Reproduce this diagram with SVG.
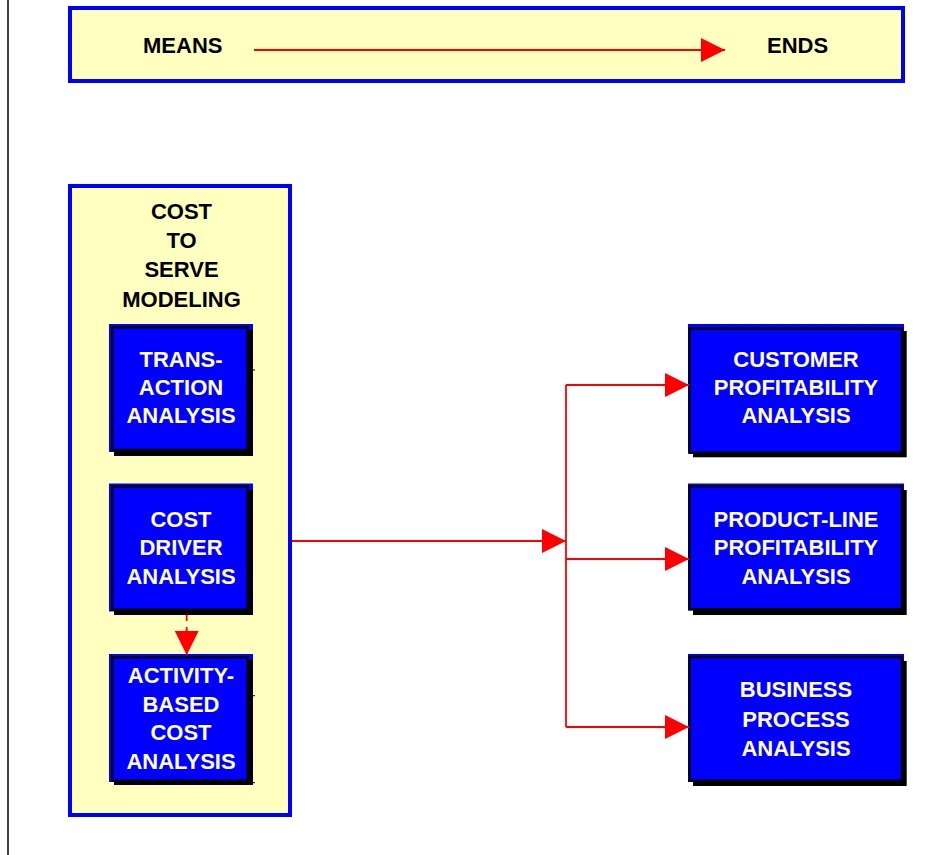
<svg xmlns="http://www.w3.org/2000/svg" width="952" height="855" viewBox="0 0 952 855">
  <style>
    .panel { fill: #FFFFC0; stroke: #0000FF; stroke-width: 4; }
    .fringe { fill: #0000FF; }
    .shadow { fill: #000000; }
    .box { fill: #0000FF; stroke: #000000; stroke-width: 2.4; }
    .tick { stroke: #000000; stroke-width: 1; }
    .lbl { font-family: "Liberation Sans", Arial, sans-serif; font-weight: bold; font-size: 22px; fill: #000000; }
    .blbl { font-family: "Liberation Sans", Arial, sans-serif; font-weight: bold; font-size: 22px; fill: #FFFFFF; text-anchor: middle; }
    .wire { fill: none; stroke: #FF0000; stroke-width: 1.8; }
  </style>
  <defs>
    <marker id="head" markerWidth="24" markerHeight="24" refX="24" refY="12" orient="auto" markerUnits="userSpaceOnUse">
      <path d="M0,0 L24,12 L0,24 Z" fill="#FF0000"/>
    </marker>
  </defs>

  <rect width="952" height="855" fill="#FFFFFF"/>
  <!-- page margin rule -->
  <line x1="8" y1="0" x2="8" y2="855" stroke="#000000" stroke-width="1.5"/>

  <!-- means / ends banner -->
  <g id="banner">
    <rect class="panel" x="70" y="8" width="833" height="73"/>
    <text class="lbl" x="143" y="53">MEANS</text>
    <text class="lbl" x="767" y="53">ENDS</text>
  </g>

  <!-- cost-to-serve container -->
  <g id="cost-to-serve">
    <rect class="panel" x="70" y="186" width="220" height="629"/>
    <text class="lbl" text-anchor="middle" x="181.5" y="218.5">COST</text>
    <text class="lbl" text-anchor="middle" x="181.5" y="247.8">TO</text>
    <text class="lbl" text-anchor="middle" x="181.5" y="277.2">SERVE</text>
    <text class="lbl" text-anchor="middle" x="181.5" y="306.5">MODELING</text>
  </g>

  <g id="transaction-analysis">
    <rect class="fringe" x="109" y="324" width="144" height="128"/>
    <rect class="shadow" x="114" y="330" width="139" height="126"/>
    <rect class="box" x="112.2" y="327.2" width="135.6" height="122.8"/>
    <line class="tick" x1="251" y1="370" x2="255" y2="370"/>
    <text class="blbl" x="181" y="366.7">TRANS-</text>
    <text class="blbl" x="181" y="395">ACTION</text>
    <text class="blbl" x="181" y="423.3">ANALYSIS</text>
  </g>

  <g id="cost-driver-analysis">
    <rect class="fringe" x="109" y="483.5" width="144" height="128"/>
    <rect class="shadow" x="114" y="490" width="139" height="125"/>
    <rect class="box" x="112.2" y="486.5" width="135.6" height="123.2"/>
    <text class="blbl" x="181" y="526.7">COST</text>
    <text class="blbl" x="181" y="555">DRIVER</text>
    <text class="blbl" x="181" y="584.3">ANALYSIS</text>
  </g>

  <g id="activity-based-cost-analysis">
    <rect class="fringe" x="109" y="654" width="144" height="128"/>
    <rect class="shadow" x="114" y="660" width="139" height="125"/>
    <rect class="box" x="112.2" y="657.2" width="135.6" height="123.6"/>
    <line class="tick" x1="251" y1="695.7" x2="255" y2="695.7"/>
    <line class="tick" x1="251" y1="782.7" x2="255" y2="782.7"/>
    <text class="blbl" x="181" y="682.7">ACTIVITY-</text>
    <text class="blbl" x="181" y="711.7">BASED</text>
    <text class="blbl" x="181" y="740.3">COST</text>
    <text class="blbl" x="181" y="769.3">ANALYSIS</text>
  </g>

  <g id="customer-profitability">
    <rect class="fringe" x="688" y="324" width="216" height="129"/>
    <rect class="shadow" x="693" y="331" width="213.7" height="126.3"/>
    <rect class="box" x="689.5" y="328.7" width="212.5" height="124.1"/>
    <text class="blbl" x="796" y="366.7">CUSTOMER</text>
    <text class="blbl" x="796" y="395">PROFITABILITY</text>
    <text class="blbl" x="796" y="423.3">ANALYSIS</text>
  </g>

  <g id="product-line-profitability">
    <rect class="fringe" x="688" y="483.5" width="216" height="127"/>
    <rect class="shadow" x="693" y="490" width="213.7" height="125"/>
    <rect class="box" x="689.5" y="486.2" width="212.5" height="123"/>
    <text class="blbl" x="796" y="526.7">PRODUCT-LINE</text>
    <text class="blbl" x="796" y="555">PROFITABILITY</text>
    <text class="blbl" x="796" y="584.3">ANALYSIS</text>
  </g>

  <g id="business-process-analysis">
    <rect class="fringe" x="688" y="654" width="216" height="128"/>
    <rect class="shadow" x="693" y="661" width="213.7" height="125"/>
    <rect class="box" x="689.5" y="657" width="212.5" height="123.8"/>
    <text class="blbl" x="796" y="697">BUSINESS</text>
    <text class="blbl" x="796" y="726.5">PROCESS</text>
    <text class="blbl" x="796" y="756">ANALYSIS</text>
  </g>

  <!-- connectors -->
  <g id="connectors">
    <path class="wire" d="M254,50 H725" marker-end="url(#head)"/>
    <path class="wire" d="M292,541 H566" marker-end="url(#head)"/>
    <path class="wire" d="M566,385 V727"/>
    <path class="wire" d="M566,385 H689" marker-end="url(#head)"/>
    <path class="wire" d="M566,559 H689" marker-end="url(#head)"/>
    <path class="wire" d="M566,727 H689" marker-end="url(#head)"/>
    <path class="wire" d="M186.7,615 V655" stroke-dasharray="6 6" stroke-width="1.3" marker-end="url(#head)"/>
  </g>
</svg>
